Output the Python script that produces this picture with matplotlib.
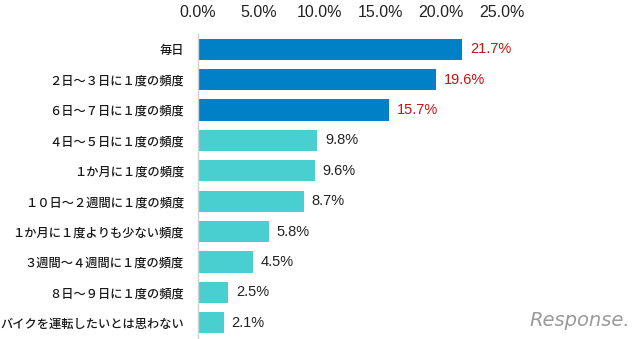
import matplotlib.pyplot as plt
from matplotlib.ticker import FuncFormatter

plt.rcParams['font.family'] = ['Noto Sans CJK JP', 'DejaVu Sans']

labels = ['毎日', '２日～３日に１度の頻度', '６日～７日に１度の頻度', '４日～５日に１度の頻度',
          '１か月に１度の頻度', '１０日～２週間に１度の頻度', '１か月に１度よりも少ない頻度',
          '３週間～４週間に１度の頻度', '８日～９日に１度の頻度', 'バイクを運転したいとは思わない']
values = [21.7, 19.6, 15.7, 9.8, 9.6, 8.7, 5.8, 4.5, 2.5, 2.1]
ticks = [0, 5, 10, 15, 20, 25]

# top three answers get the darker bar and red value text
top_n = 3
bar_colors = ['#0080c6' if i < top_n else '#4acfd1' for i in range(len(values))]
text_colors = ['#cc1111' if i < top_n else '#222222' for i in range(len(values))]

fig = plt.figure(figsize=(6.4, 3.39), dpi=100)
ax = fig.add_axes([198 / 640, 1 - 338 / 339, 304 / 640, 304 / 339])

y = list(range(len(values)))
ax.barh(y, values, height=0.7, color=bar_colors, edgecolor='none')
ax.set_xlim(0, 25)
ax.set_ylim(len(values) - 0.5, -0.5)

for yi, v, c in zip(y, values, text_colors):
    ax.text(v + 0.65, yi, f'{v:.1f}%', va='center', ha='left', fontsize=10.5,
            color=c, family='Liberation Sans')

ax.set_yticks(y)
ax.set_yticklabels(labels, fontsize=8.8, color='#1a1a1a', fontweight='medium')
ax.set_xticks(ticks)
ax.xaxis.set_major_formatter(FuncFormatter(lambda v, p: f'{v:.1f}%'))
ax.xaxis.tick_top()
for t in ax.get_xticklabels():
    t.set_family('Liberation Sans')
ax.tick_params(axis='x', length=0, pad=10, labelsize=11.5, labelcolor='#222222')
ax.tick_params(axis='y', length=0, pad=10)

for s in ['top', 'right', 'bottom']:
    ax.spines[s].set_visible(False)
ax.spines['left'].set_color('#d0d0d0')
ax.spines['left'].set_linewidth(1.0)

fig.text(0.985, 0.055, 'Response.', ha='right', va='center', fontsize=14,
         color='#9a9a9a', style='italic', family='DejaVu Sans')

fig.savefig('out.png', dpi=100)
